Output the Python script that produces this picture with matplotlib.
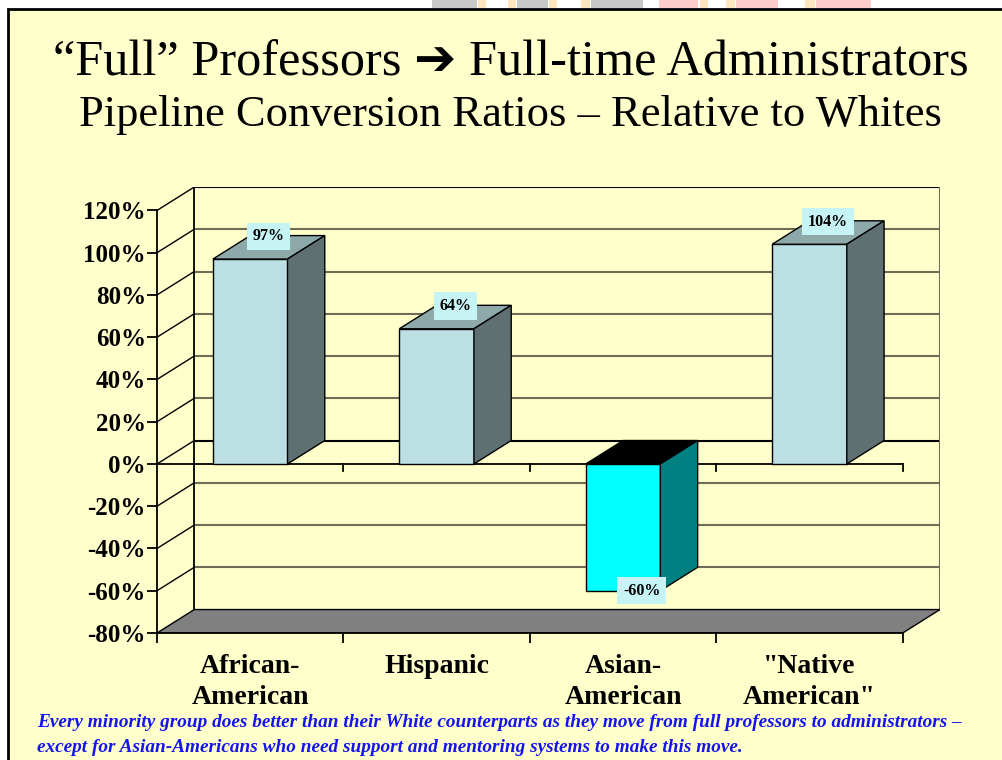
import matplotlib
matplotlib.use("Agg")
import matplotlib.pyplot as plt
from matplotlib.patches import Polygon, Rectangle

# ---- data -------------------------------------------------------------
categories = ["African-\nAmerican", "Hispanic", "Asian-\nAmerican", "\"Native\nAmerican\""]
ratios = [97, 64, -60, 104]
value_labels = ["97%", "64%", "-60%", "104%"]
y_ticks = [-80, -60, -40, -20, 0, 20, 40, 60, 80, 100, 120]
y_tick_labels = [f"{t}%" for t in y_ticks]

title_main = "\u201cFull\u201d Professors \u2794 Full-time Administrators"
title_sub = "Pipeline Conversion Ratios \u2013 Relative to Whites"
footnote_lines = [
    "Every minority group does better than their White counterparts as they move "
    "from full professors to administrators \u2013",
    "except for Asian-Americans who need support and mentoring systems to make this move.",
]

# ---- styling ----------------------------------------------------------
SERIF = ["Liberation Serif", "DejaVu Serif"]
TITLE_FONT = ["Liberation Serif", "DejaVu Sans"]
BG = "#FFFFCC"
GRID = "#6E6E58"
DX, DY = 0.2, 11.1          # depth of the pseudo-3D box in data units
BAR_W = 0.40
POS_COLORS = dict(front="#BCDFE3", side="#5E7072", top="#8EA9AA")
NEG_COLORS = dict(front="#00FFFF", side="#008080", top="#000000")

W, H = 1002, 760
fig = plt.figure(figsize=(W / 100, H / 100), dpi=100)
fig.patch.set_facecolor("white")

# slide background with frame
fig.add_artist(Rectangle((8 / W, -0.01), 1.02 - 8 / W, 1.01 - 9 / H,
                         transform=fig.transFigure, facecolor=BG,
                         edgecolor="black", lw=2, zorder=0))

# decorative strip above the frame
strip = [(432, 477, "#C8C8C8"), (478, 486, "#FFE6C0"), (508, 516, "#FFE6C0"),
         (517, 548, "#C8C8C8"), (549, 557, "#FFE6C0"), (581, 590, "#FFE6C0"),
         (591, 643, "#C8C8C8"), (659, 698, "#FFCCCC"), (700, 708, "#FFE6C0"),
         (726, 735, "#FFE6C0"), (736, 778, "#FFCCCC"), (805, 815, "#FFE6C0"),
         (816, 871, "#FFCCCC")]
for x0, x1, c in strip:
    fig.add_artist(Rectangle((x0 / W, 1 - 8 / H), (x1 - x0) / W, 8 / H,
                             transform=fig.transFigure, facecolor=c,
                             edgecolor="none", zorder=0))

# titles
fig.text(511 / W, 1 - 75 / H, title_main, ha="center", va="baseline",
         fontsize=36.3, family=TITLE_FONT, color="black")
fig.text(510 / W, 1 - 126 / H, title_sub, ha="center", va="baseline",
         fontsize=32, family=SERIF, color="black")

# footnote
for line, base in zip(footnote_lines, (727, 752)):
    fig.text(37 / W, 1 - base / H, line, ha="left", va="baseline",
             fontsize=13.9, family=SERIF, weight="bold", style="italic",
             color="#1414F0")

# ---- chart axes -------------------------------------------------------
ax = fig.add_axes([157 / W, (H - 633) / H, 783 / W, 446 / H])
ax.set_xlim(0, len(categories) + DX)
ax.set_ylim(y_ticks[0], y_ticks[-1] + DY)
ax.patch.set_visible(False)

n = len(categories)
ymin, ymax = y_ticks[0], y_ticks[-1]

# back wall gridlines and side wall diagonals
for t in y_ticks[1:]:
    ax.plot([DX, n + DX], [t + DY, t + DY],
            color="black" if t in (0, ymax) else GRID,
            lw=1.5, zorder=1, solid_capstyle="butt")
    ax.plot([0, DX], [t, t + DY], color="black", lw=1.0, zorder=1)
ax.plot([DX, DX], [ymin + DY, ymax + DY], color="black", lw=1.3, zorder=1)
ax.plot([n + DX, n + DX], [ymin + DY, ymax + DY], color=GRID, lw=1.5, zorder=1)

# floor
ax.add_patch(Polygon([(0, ymin), (DX, ymin + DY), (n + DX, ymin + DY), (n, ymin)],
                     closed=True, facecolor="#808080", edgecolor="black",
                     lw=1.0, zorder=2))

# zero line at the front with category ticks
ax.plot([0, n], [0, 0], color="black", lw=1.3, zorder=2.5)
for k in range(1, n + 1):
    ax.plot([k, k], [0, -3.3], color="black", lw=1.3, zorder=2.5)

# bars: front faces through ax.bar, top and side faces as polygons
xs = [i + 0.5 for i in range(n)]
front_colors = [(POS_COLORS if v >= 0 else NEG_COLORS)["front"] for v in ratios]
ax.bar(xs, ratios, width=BAR_W, color=front_colors, edgecolor="black",
       lw=1.0, zorder=3)
for x, v in zip(xs, ratios):
    c = POS_COLORS if v >= 0 else NEG_COLORS
    x0, x1 = x - BAR_W / 2, x + BAR_W / 2
    top_y = max(v, 0)
    lo, hi = min(v, 0), max(v, 0)
    ax.add_patch(Polygon([(x0, top_y), (x0 + DX, top_y + DY),
                          (x1 + DX, top_y + DY), (x1, top_y)],
                         closed=True, facecolor=c["top"], edgecolor="black",
                         lw=1.0, zorder=3))
    ax.add_patch(Polygon([(x1, lo), (x1 + DX, lo + DY),
                          (x1 + DX, hi + DY), (x1, hi)],
                         closed=True, facecolor=c["side"], edgecolor="black",
                         lw=1.0, zorder=3))

# value labels
for x, v, lab in zip(xs, ratios, value_labels):
    ly = v + DY * 0.97 if v >= 0 else v
    ax.text(x + DX / 2, ly, lab, ha="center", va="center", fontsize=11.5,
            family=SERIF, weight="bold", zorder=5,
            bbox=dict(boxstyle="square,pad=0.35", facecolor="#C6F3F3",
                      edgecolor="none"))

# front axes
for s in ("top", "right"):
    ax.spines[s].set_visible(False)
ax.spines["left"].set_bounds(ymin, ymax)
ax.spines["bottom"].set_bounds(0, n)
for s in ("left", "bottom"):
    ax.spines[s].set_linewidth(1.3)
    ax.spines[s].set_zorder(4)

ax.set_yticks(y_ticks)
ax.set_yticklabels(y_tick_labels, fontsize=18, family=SERIF, weight="bold")
ax.tick_params(axis="y", direction="out", length=7, width=1.3, pad=1)

ax.set_xticks(range(n + 1))
ax.set_xticklabels([""] * (n + 1))
ax.tick_params(axis="x", which="major", direction="out", length=7, width=1.3)
ax.set_xticks(xs, minor=True)
ax.set_xticklabels(categories, minor=True, fontsize=20, family=SERIF,
                   weight="bold", linespacing=1.3)
ax.tick_params(axis="x", which="minor", length=0, pad=15)

fig.savefig("out.png", dpi=100, facecolor=fig.get_facecolor())
